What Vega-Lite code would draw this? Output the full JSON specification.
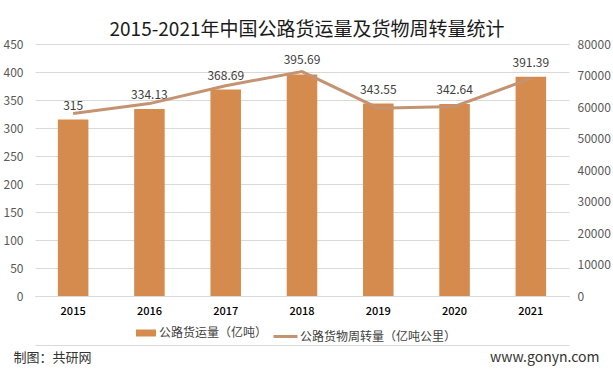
{
  "$schema": "https://vega.github.io/schema/vega-lite/v6.json",
  "width": 534,
  "height": 252,
  "autosize": {"type": "none"},
  "padding": {"left": 35, "top": 44, "right": 44, "bottom": 76},
  "background": "white",
  "config": {
    "view": {"stroke": null},
    "font": "Noto Sans CJK SC",
    "axis": {"labelFont": "Noto Sans CJK SC", "titleFont": "Noto Sans CJK SC"},
    "legend": {"labelFont": "Noto Sans CJK SC"}
  },
  "title": {
    "text": "2015-2021年中国公路货运量及货物周转量统计",
    "fontSize": 19,
    "fontWeight": "normal",
    "color": "#1a1a1a",
    "font": "Noto Sans CJK SC",
    "anchor": "middle",
    "offset": 4,
    "dy": 6,
    "dx": 5
  },
  "data": {
    "values": [
      {"year": "2015", "freight": 315, "turnover": 57955.72},
      {"year": "2016", "freight": 334.13, "turnover": 61080.1},
      {"year": "2017", "freight": 368.69, "turnover": 66771.52},
      {"year": "2018", "freight": 395.69, "turnover": 71249.21},
      {"year": "2019", "freight": 343.55, "turnover": 59636.39},
      {"year": "2020", "freight": 342.64, "turnover": 60171.85},
      {"year": "2021", "freight": 391.39, "turnover": 69087.65}
    ]
  },
  "layer": [
    {
      "encoding": {
        "x": {
          "field": "year", "type": "nominal",
          "scale": {"paddingInner": 0.6, "paddingOuter": 0.3},
          "axis": {
            "orient": "bottom",
            "title": "制图：共研网",
            "titleX": -22, "titleY": 61, "titleAlign": "left", "titleBaseline": "middle",
            "titleFontSize": 13, "titleFontWeight": "normal", "titleColor": "#333333",
            "labelAngle": 0, "labelFontSize": 11, "labelColor": "#000000", "labelFontWeight": 500,
            "labelPadding": 9, "ticks": false, "domain": true, "domainColor": "#d9d9d9", "domainWidth": 1
          }
        },
        "y": {
          "field": "freight", "type": "quantitative",
          "scale": {"domain": [0, 450]},
          "axis": {
            "title": null, "values": [0, 50, 100, 150, 200, 250, 300, 350, 400, 450],
            "labelOverlap": false,
            "grid": true, "gridColor": "#d9d9d9", "gridWidth": 1, "gridOpacity": 1, "ticks": false, "domain": false,
            "labelFontSize": 12, "labelColor": "#595959", "labelPadding": 12
          }
        }
      },
      "layer": [
        {
          "mark": {"type": "bar", "color": "#D58B4E"},
          "encoding": {
            "fill": {
              "datum": "公路货运量（亿吨）",
              "scale": {"range": ["#D58B4E"]},
              "legend": {
                "orient": "none", "legendX": 101, "legendY": 279, "title": null,
                "symbolType": "M-1,-0.35H1V0.35H-1Z", "symbolSize": 400, "symbolStrokeWidth": 0,
                "labelFontSize": 12, "labelColor": "#404040", "labelOffset": 3
              }
            }
          }
        },
        {
          "mark": {"type": "text", "baseline": "bottom", "dy": -7, "fontSize": 12, "color": "#404040"},
          "encoding": {
            "text": {"field": "freight", "type": "quantitative"}
          }
        }
      ]
    },
    {
      "mark": {"type": "line", "color": "#C49371", "strokeWidth": 3},
      "encoding": {
        "x": {
          "field": "year", "type": "nominal",
          "scale": {"paddingInner": 0.6, "paddingOuter": 0.3},
          "axis": {
            "orient": "bottom",
            "title": "www.gonyn.com",
            "offset": 49,
            "titleX": 564, "titleY": 12, "titleAlign": "right", "titleBaseline": "middle",
            "titleFontSize": 14, "titleFontWeight": "normal", "titleColor": "#333333",
            "labels": false, "ticks": false, "grid": false, "domain": true, "domainColor": "#d9d9d9", "domainWidth": 1
          }
        },
        "y": {
          "field": "turnover", "type": "quantitative",
          "scale": {"domain": [0, 80000]},
          "axis": {
            "orient": "right", "title": null, "format": "d",
            "values": [0, 10000, 20000, 30000, 40000, 50000, 60000, 70000, 80000],
            "labelOverlap": false,
            "grid": false, "ticks": false, "domain": false,
            "labelFontSize": 12, "labelColor": "#595959", "labelPadding": 8
          }
        },
        "stroke": {
          "datum": "公路货物周转量（亿吨公里）",
          "scale": {"range": ["#C49371"]},
          "legend": {
            "orient": "none", "legendX": 237, "legendY": 279, "title": null,
            "symbolType": "stroke", "symbolSize": 576, "symbolStrokeWidth": 3,
            "labelFontSize": 12, "labelColor": "#404040", "labelOffset": 1
          }
        }
      }
    }
  ],
  "resolve": {
    "scale": {"y": "independent", "x": "independent"},
    "axis": {"x": "independent"}
  }
}
